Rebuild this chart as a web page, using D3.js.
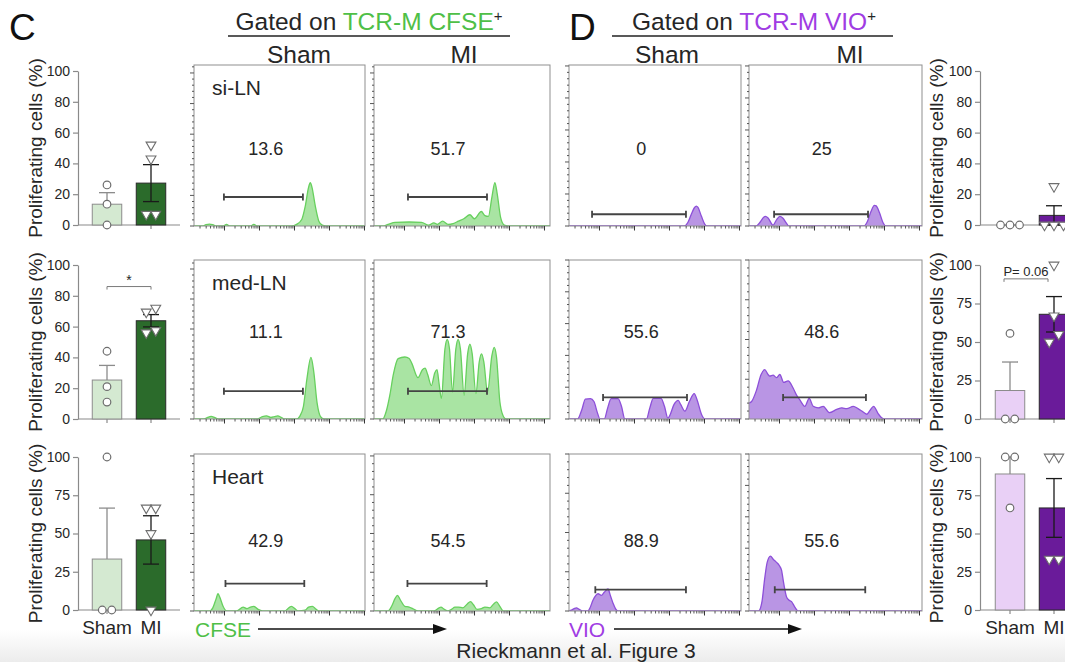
<!DOCTYPE html>
<html>
<head>
<meta charset="utf-8">
<script src="https://d3js.org/d3.v7.min.js"></script>
<style>
  body { margin: 0; background: #fff; }
  svg { font-family: "Liberation Sans", Arial, Helvetica, sans-serif; }
</style>
</head>
<body>
<script>
// ---------- data ----------
const groups = ["Sham", "MI"];
const tissues = ["si-LN", "med-LN", "Heart"];

// proliferating cells (%) gated on TCR-M CFSE+
const cfseMean = [[13.5, 27.2], [25.3, 63.8], [33.3, 45.8]];
const cfseSem  = [[7.5, 12.0], [9.5, 4.0], [33.3, 15.8]];
const cfsePoints = [
  [[26, 13.5, 0], [52, 43, 7, 7]],
  [[44, 21, 11], [72, 69.5, 56, 57.5]],
  [[100, 0, 0], [66.7, 66.7, 50, 0]]
];
const cfseTicks = [[0, 20, 40, 60, 80, 100], [0, 20, 40, 60, 80, 100], [0, 25, 50, 75, 100]];
const cfseSig = [null, "*", null];

// proliferating cells (%) gated on TCR-M VIO+
const vioMean = [[0, 6.25], [18.5, 68], [88.9, 66.7]];
const vioSem  = [[0, 6.25], [18.5, 11.5], [11.1, 19.2]];
const vioPoints = [
  [[0, 0, 0], [25, 0, 0, 0]],
  [[55.6, 0, 0], [100, 67, 55, 50]],
  [[100, 100, 66.7], [100, 100, 33.3, 33.3]]
];
const vioTicks = [[0, 20, 40, 60, 80, 100], [0, 25, 50, 75, 100], [0, 25, 50, 75, 100]];
const vioSig = [null, "P= 0.06", null];

// gate percentages shown on the histograms [Sham, MI]
const cfsePct = [["13.6", "51.7"], ["11.1", "71.3"], ["42.9", "54.5"]];
const vioPct  = [["0", "25"], ["55.6", "48.6"], ["88.9", "55.6"]];

// gates: [start, end, height] in channel % / mode %
const cfseGates = [
  [[17.5, 63.7, 18], [19.3, 64.2, 18]],
  [[17.5, 63.7, 17.5], [19.3, 64.2, 17.5]],
  [[18.4, 64.5, 17.5], [19.0, 64.0, 17.5]]
];
const vioGates = [
  [[13.4, 68.0, 7.3], [14.5, 68.8, 7.3]],
  [[19.8, 68.6, 13.6], [19.7, 67.6, 13.6]],
  [[15.3, 68.0, 13.6], [14.9, 67.2, 13.6]]
];

// count axis top (major tick units) per histogram
const cfseCountTop = [[5.26, 5.26], [5.3, 5.3], [4.05, 4.05]];
const vioCountTop  = [[5.03, 5.03], [5.0, 4.0], [4.0, 5.0]];

// histogram traces: [channel %, % of box height]
const cfseSham1 = [[0,0],[5,0],[7,0.8],[9,1.2],[11,0.8],[13,0],[17,0],[19,1],[21,0],[33,0],[35,1],[37,0],[57,0],[60,1],[63,4],[65,12],[67,24],[68,27],[69,24],[71,12],[73,3],[75,0.5],[77,0],[100,0]];
const cfseMI1 = [[0,0],[5,0],[8,1],[12,2.3],[20,2.5],[27,2.3],[31,0.5],[34,2],[36,1],[39,3],[42,1],[45,1.5],[48,3],[51,4.5],[54.5,7],[57,4.5],[61,9],[63,6.5],[65,6],[67,18],[68.7,27],[70,20],[72,5],[74,0.5],[76,0],[100,0]];
const cfseSham2 = [[0,0],[6,0],[8,1],[10,1.7],[12,1],[14,0],[37,0],[40,1.5],[42.4,2],[45,1],[47,1.5],[49,2],[51,1],[53,0],[60,0],[62,2],[64,8],[66,25],[68.4,38.7],[70,30],[72,10],[74,1.5],[76,0],[100,0]];
const cfseMI2 = [[0,0],[5,0],[7,5],[9,15],[11,28],[13.7,38],[17.5,39],[20,38],[21.5,35],[25,26],[27.5,31],[29,32],[30.5,28],[32.6,21],[34.5,29],[35.8,31],[37,22],[38.3,13],[40.3,44],[41.6,50],[42.9,44],[44.6,17],[46.5,44],[47.8,50],[49.1,44],[51.2,15],[53.2,41],[54.5,47],[55.8,41],[57.9,16],[59.8,36],[61.1,41],[62.4,36],[64.5,17],[67,40],[68.3,45],[69.6,39],[71.5,11],[73,3],[75,0],[100,0]];
const cfseSham3 = [[0,0],[9,0],[11,2],[13,8],[14,11],[15,9],[17,3],[19,0],[25,0],[28.7,2.5],[31,1.5],[33,2.5],[35,3],[37.5,1],[40,0],[53,0],[56,2.5],[57,3],[59,1.5],[61,0],[65,0.5],[67,2.5],[69.3,3],[71,1.5],[73,0],[100,0]];
const cfseMI3 = [[0,0],[8,0],[10,3],[12,8],[13.3,10],[15,7],[17.5,3],[20,2.5],[22,1.5],[25,0],[34,0],[37,2],[38,2.5],[40,1],[42,0],[44,1],[46,2.5],[48,2.5],[50.5,2],[53,4.5],[54.8,6],[56.5,4],[58.5,1],[61,1.5],[63,2.5],[65.8,2],[68,4.5],[69.6,5.8],[71.5,3],[73.5,0],[100,0]];

const vioSham1 = [[0,0],[67,0],[69,2],[71,7],[73,11.5],[74,12.4],[75,11.5],[77,6],[79,1],[80,0],[100,0]];
const vioMI1 = [[0,0],[4,0],[6.5,2.5],[8.5,5.5],[9.5,6],[11,5],[13.9,0.5],[16,4],[17.8,6],[19.5,5],[21.5,2],[23,0],[66.5,0],[68.5,3],[70.5,9],[72.5,12.8],[73.5,12.5],[75.5,8],[77.5,2],[79,0],[100,0]];
const vioSham2 = [[0,0],[5,0],[7.5,6],[9.5,12.5],[12.5,12.8],[14.5,11],[16.5,4],[18,0],[20.5,0],[22.5,7],[24.5,12.8],[28.5,12.8],[30.5,8],[32.5,0],[45,0],[47,7],[49,13],[53.5,13],[55.5,8],[57.5,0.5],[58.5,2],[61,9],[63.5,11.7],[65,9],[67.4,5],[70,11],[72.8,16],[74.5,12],[77,3],[79,0],[100,0]];
const vioMI2 = [[0,10],[1.5,11],[4.3,18],[7,28],[9.1,31],[11,28],[12,27],[13.9,27.6],[15.9,26],[17.8,28],[20.1,23],[22.6,24],[25.5,19.5],[27.5,15],[29.4,12],[32.3,8],[34.8,13],[37.1,8],[40,7],[42.9,8],[46.4,4],[50.7,6],[53.6,7],[56.5,6.5],[60.3,8],[63,6.5],[65.2,5],[68.1,3],[70,5.5],[72,8],[74.9,3],[76.5,1],[78.1,0],[100,0]];
const vioSham3 = [[0,0],[1.4,0.5],[3,1.5],[4.3,2],[6,1],[8.2,0],[11,0],[12,1.5],[14,7],[16.9,11],[18.8,10],[20.5,12],[22.7,14],[24,10],[25.6,5],[27,1.5],[28.5,0],[100,0]];
const vioMI3 = [[0,0],[5.5,0],[7.5,6],[9,20],[10.5,31],[12.4,35],[14,33],[15.9,31],[17.5,29],[18.8,26],[20,18],[21.7,9],[23,7],[24.6,6],[26.5,2.5],[28.4,0],[100,0]];

const cfseHist = [[cfseSham1, cfseMI1], [cfseSham2, cfseMI2], [cfseSham3, cfseMI3]];
const vioHist  = [[vioSham1, vioMI1], [vioSham2, vioMI2], [vioSham3, vioMI3]];

// ---------- layout ----------
const W = 1065, H = 662;
const barY = [[71, 225], [265, 419], [457, 610]];
const boxY = [[65, 226], [260, 419], [454, 611]];
const cfseBoxX = [[194, 365], [374, 550]];
const vioBoxX = [[569, 741], [749, 922]];
const pctY = [48, 55, 45];

const green = { light: "#d4e9d1", dark: "#2b6b2b", fill: "#a9e4a3", line: "#67d05e", text: "#4fbf47" };
const purple = { light: "#e9d0f6", dark: "#6a1b9a", fill: "#b995e4", line: "#8d4fd9", text: "#a03ce3" };
const axisCol = "#8a8a8a", textCol = "#262626";

const svg = d3.select("body").append("svg").attr("width", W).attr("height", H);
const defs = svg.append("defs");

// faint grey band at the bottom of the page
const grad = defs.append("linearGradient").attr("id", "fade")
  .attr("x1", 0).attr("x2", 0).attr("y1", 0).attr("y2", 1);
grad.append("stop").attr("offset", "0%").attr("stop-color", "#ffffff");
grad.append("stop").attr("offset", "100%").attr("stop-color", "#ececec");
svg.append("rect").attr("x", 0).attr("y", 630).attr("width", W).attr("height", H - 630).attr("fill", "url(#fade)");

// spread overlapping points sideways
function jitter(vals, thr) {
  const idx = vals.map((v, i) => i).sort((a, b) => vals[a] - vals[b]);
  const off = vals.map(() => 0);
  let grp = [idx[0]];
  const flush = () => grp.forEach((k, j) => off[k] = j - (grp.length - 1) / 2);
  for (let n = 1; n < idx.length; n++) {
    if (vals[idx[n]] - vals[grp[grp.length - 1]] < thr) grp.push(idx[n]);
    else { flush(); grp = [idx[n]]; }
  }
  flush();
  return off;
}

function barChart(row, axisX, axisEnd, band, means, sems, pts, ticks, sig, col, labelX, showX, sigShift) {
  const g = svg.append("g");
  const y = d3.scaleLinear().domain([0, 100]).range([barY[row][1], barY[row][0]]);
  const x = d3.scaleBand().domain(groups).range(band).paddingInner(0.33).paddingOuter(0.165);

  const ax = g.append("g").attr("transform", `translate(${axisX},0)`)
    .call(d3.axisLeft(y).tickValues(ticks).tickSize(5).tickSizeOuter(0).tickPadding(3));
  ax.selectAll("path, line").attr("stroke", axisCol).attr("stroke-width", 1.2);
  ax.selectAll("text").attr("fill", textCol).style("font-size", "14px").style("font-family", "Liberation Sans, Arial, sans-serif");

  g.append("line").attr("x1", axisX).attr("x2", axisEnd).attr("y1", y(0)).attr("y2", y(0))
    .attr("stroke", axisCol).attr("stroke-width", 1.2);

  g.append("text").attr("transform", `translate(${labelX},${(barY[row][0] + barY[row][1]) / 2}) rotate(-90)`)
    .attr("text-anchor", "middle").attr("fill", textCol).style("font-size", "19px")
    .text("Proliferating cells (%)");

  groups.forEach((grp, i) => {
    const m = means[i], s = sems[i];
    const cx = x(grp) + x.bandwidth() / 2;
    g.append("line").attr("x1", cx).attr("x2", cx).attr("y1", y(0)).attr("y2", y(0) + 4)
      .attr("stroke", axisCol).attr("stroke-width", 1.2);
    g.append("rect").attr("x", x(grp)).attr("y", y(m)).attr("width", x.bandwidth())
      .attr("height", y(0) - y(m))
      .attr("fill", i ? col.dark : col.light)
      .attr("stroke", i ? "#2a2a2a" : "#8c8c8c").attr("stroke-width", 1);
    const ec = i ? "#1a1a1a" : "#8c8c8c";
    const lo = i ? m - s : m;
    g.append("line").attr("x1", cx).attr("x2", cx).attr("y1", y(lo)).attr("y2", y(m + s))
      .attr("stroke", ec).attr("stroke-width", 1.3);
    const caps = i ? [m + s, m - s] : [m + s];
    caps.forEach(c => g.append("line").attr("x1", cx - 8).attr("x2", cx + 8)
      .attr("y1", y(c)).attr("y2", y(c)).attr("stroke", ec).attr("stroke-width", 1.3));

    const vals = pts[i];
    const off = jitter(vals, 6);
    vals.forEach((v, k) => {
      const px = cx + off[k] * 9.5;
      if (i === 0) {
        g.append("circle").attr("cx", px).attr("cy", y(v)).attr("r", 3.8)
          .attr("fill", "#fff").attr("stroke", "#6e6e6e").attr("stroke-width", 1.2);
      } else {
        g.append("path").attr("d", d3.symbol(d3.symbolTriangle, 42)())
          .attr("transform", `translate(${px},${y(v)}) rotate(180)`)
          .attr("fill", "#fff").attr("stroke", "#6e6e6e").attr("stroke-width", 1.1);
      }
    });

    if (showX) {
      g.append("text").attr("x", cx).attr("y", 634).attr("text-anchor", "middle")
        .attr("fill", textCol).style("font-size", "19px").text(grp);
    }
  });

  if (sig) {
    const a = x("Sham") + x.bandwidth() / 2 + sigShift, b = x("MI") + x.bandwidth() / 2 + sigShift;
    const by = sig === "*" ? y(86) : y(91);
    g.append("path").attr("d", `M${a},${by + 3}V${by}H${b}V${by + 3}`)
      .attr("fill", "none").attr("stroke", "#7a7a7a").attr("stroke-width", 1);
    g.append("text").attr("x", (a + b) / 2).attr("y", sig === "*" ? by - 2 : by - 3)
      .attr("text-anchor", "middle").attr("fill", textCol)
      .style("font-size", sig === "*" ? "14px" : "13px").text(sig);
  }
}

let clipId = 0;
function histPanel(bx, by, trace, gate, pct, pctRow, countTop, col, tissue) {
  const g = svg.append("g");
  const x = d3.scaleLinear().domain([0, 100]).range(bx);
  const y = d3.scaleLinear().domain([0, 100]).range([by[1], by[0]]);
  const id = "clip" + (clipId++);
  defs.append("clipPath").attr("id", id)
    .append("rect").attr("x", bx[0]).attr("y", by[0]).attr("width", bx[1] - bx[0]).attr("height", by[1] - by[0]);

  const area = d3.area().x(d => x(d[0])).y0(y(0)).y1(d => y(d[1])).curve(d3.curveMonotoneX);
  const line = d3.line().x(d => x(d[0])).y(d => y(d[1])).curve(d3.curveMonotoneX);
  const cg = g.append("g").attr("clip-path", `url(#${id})`);
  cg.append("path").datum(trace).attr("d", area).attr("fill", col.fill);
  cg.append("path").datum(trace).attr("d", line).attr("fill", "none").attr("stroke", col.line).attr("stroke-width", 1.3);

  g.append("rect").attr("x", bx[0]).attr("y", by[0]).attr("width", bx[1] - bx[0]).attr("height", by[1] - by[0])
    .attr("fill", "none").attr("stroke", "#8f8f8f").attr("stroke-width", 1);

  // count axis ticks
  const yc = d3.scaleLinear().domain([0, countTop]).range([by[1], by[0]]);
  d3.range(0, countTop + 1e-6, 0.2).forEach((v, k) => {
    const major = k % 5 === 0;
    g.append("line").attr("x1", bx[0] - (major ? 4 : 2)).attr("x2", bx[0])
      .attr("y1", yc(v)).attr("y2", yc(v)).attr("stroke", "#555").attr("stroke-width", 1);
  });
  // log fluorescence ticks
  const span = (bx[1] - bx[0]) / 35;
  const xl = d3.scaleLog().domain([Math.pow(10, 1.129), Math.pow(10, 1.129 + span)]).range(bx);
  d3.range(1, 7).forEach(d => d3.range(1, 10).forEach(k => {
    const v = k * Math.pow(10, d);
    if (v < xl.domain()[0] || v > xl.domain()[1]) return;
    g.append("line").attr("x1", xl(v)).attr("x2", xl(v)).attr("y1", by[1]).attr("y2", by[1] + (k === 1 ? 4.5 : 2.5))
      .attr("stroke", k === 1 ? "#333" : "#555").attr("stroke-width", 1);
  }));

  // gate
  const gy = y(gate[2]);
  g.append("path").attr("d", `M${x(gate[0])},${gy - 3.5}V${gy + 3.5}M${x(gate[0])},${gy}H${x(gate[1])}M${x(gate[1])},${gy - 3.5}V${gy + 3.5}`)
    .attr("fill", "none").attr("stroke", "#444").attr("stroke-width", 1.8);

  g.append("text").attr("x", x(42)).attr("y", y(pctRow)).attr("dy", "0.35em").attr("text-anchor", "middle")
    .attr("fill", textCol).style("font-size", "18px").text(pct);

  if (tissue) {
    g.append("text").attr("x", bx[0] + 18).attr("y", by[0] + 30).attr("fill", textCol)
      .style("font-size", "21px").text(tissue);
  }
}

for (let r = 0; r < 3; r++) {
  barChart(r, 78, 180, [85, 173], cfseMean[r], cfseSem[r], cfsePoints[r], cfseTicks[r], cfseSig[r], green, 42, r === 2, 0);
  barChart(r, 980, W, [988, 1076], vioMean[r], vioSem[r], vioPoints[r], vioTicks[r], vioSig[r], purple, 943, r === 2, -6);
  for (let c = 0; c < 2; c++) {
    histPanel(cfseBoxX[c], boxY[r], cfseHist[r][c], cfseGates[r][c], cfsePct[r][c], pctY[r], cfseCountTop[r][c], green, c === 0 ? tissues[r] : null);
    histPanel(vioBoxX[c], boxY[r], vioHist[r][c], vioGates[r][c], vioPct[r][c], pctY[r], vioCountTop[r][c], purple, null);
  }
}

// ---------- headers ----------
svg.append("text").attr("x", 9).attr("y", 40).attr("fill", "#111").style("font-size", "37px").text("C");
svg.append("text").attr("x", 569).attr("y", 40).attr("fill", "#111").style("font-size", "37px").text("D");

function header(cx, x0, x1, label, col, colX) {
  const t = svg.append("text").attr("x", cx).attr("y", 30).attr("text-anchor", "middle")
    .attr("fill", textCol).style("font-size", "24.5px");
  t.append("tspan").text("Gated on ");
  t.append("tspan").attr("fill", col).text(label);
  t.append("tspan").attr("dy", -9).style("font-size", "15px").text("+");
  svg.append("line").attr("x1", x0).attr("x2", x1).attr("y1", 36).attr("y2", 36)
    .attr("stroke", "#222").attr("stroke-width", 1.5);
  groups.forEach((grp, i) => {
    svg.append("text").attr("x", colX[i]).attr("y", 63).attr("text-anchor", "middle")
      .attr("fill", textCol).style("font-size", "24.5px").text(grp);
  });
}
header(369, 228, 510, "TCR-M CFSE", green.text, [299, 464]);
header(754, 612, 893, "TCR-M VIO", purple.text, [667, 850]);

// ---------- axis captions ----------
function arrowCaption(x, label, col, x0, x1) {
  svg.append("text").attr("x", x).attr("y", 637).attr("fill", col).style("font-size", "21px").text(label);
  svg.append("line").attr("x1", x0).attr("x2", x1 - 12).attr("y1", 629).attr("y2", 629)
    .attr("stroke", "#111").attr("stroke-width", 1.5);
  svg.append("path").attr("d", `M${x1},629L${x1 - 14},624L${x1 - 14},634Z`).attr("fill", "#111");
}
arrowCaption(195, "CFSE", green.text, 258, 447);
arrowCaption(569, "VIO", purple.text, 614, 802);

svg.append("text").attr("x", 576).attr("y", 658).attr("text-anchor", "middle")
  .attr("fill", textCol).style("font-size", "21px").text("Rieckmann et al. Figure 3");
</script>
</body>
</html>
